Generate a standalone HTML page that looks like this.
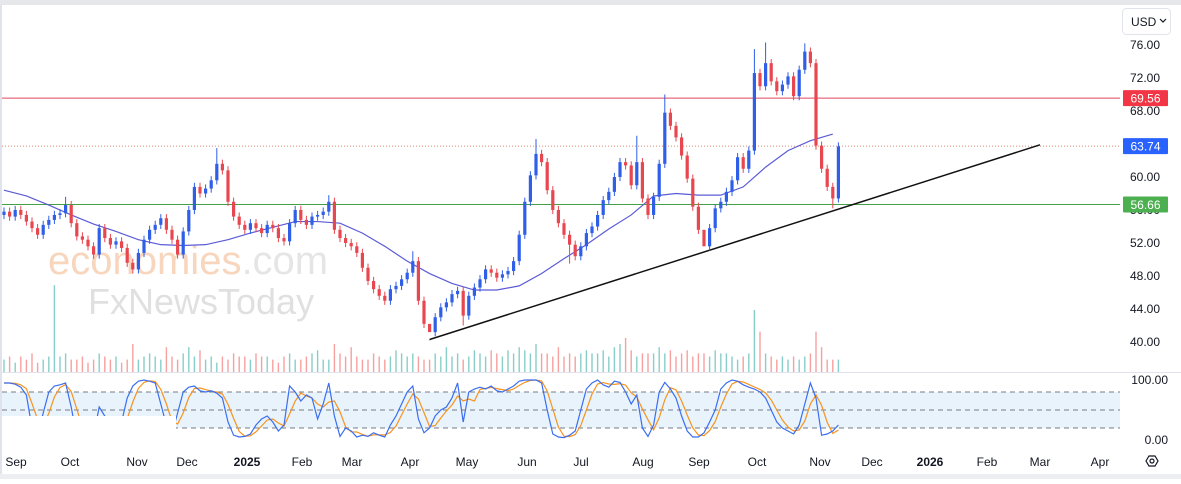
<!DOCTYPE html>
<html><head><meta charset="utf-8">
<style>
html,body{margin:0;padding:0;background:#fff;}
body{width:1181px;height:479px;overflow:hidden;font-family:"Liberation Sans",sans-serif;}
svg text{font-family:"Liberation Sans",sans-serif;}
</style></head>
<body>
<svg id="chart" width="1181" height="479" viewBox="0 0 1181 479" xmlns="http://www.w3.org/2000/svg">
  <rect x="0" y="0" width="1181" height="479" fill="#fff"/>
  <rect x="0" y="0" width="1181" height="5" fill="#e6e7ea"/>
  <rect x="0" y="5" width="2" height="470" fill="#e0e3eb"/>
  <rect x="0" y="474" width="1181" height="5" fill="#eceef1"/>
  <line x1="0" y1="372.5" x2="1181" y2="372.5" stroke="#e0e3eb"/>
  <g>
    <text x="48" y="274" font-size="40" fill="#f6c8a8" opacity="0.75">economies<tspan fill="#ddd">.com</tspan></text>
    <text x="88" y="314" font-size="36" fill="#d9d9d9" opacity="0.8">FxNewsToday</text>
  </g>
  <g id="stochBand"></g>
  <g id="vol"></g>
  <g id="levels"></g>
  <g id="ma"></g>
  <g id="candles"></g>
  <g id="stoch"></g>
  <rect x="2" y="416" width="174" height="31" fill="#fff"/>
  <g id="yaxis"></g>
  <g id="xaxis"></g>
  <g>
    <rect x="1122.5" y="8.5" width="48" height="26" rx="4" fill="#fff" stroke="#e0e3eb"/>
    <text x="1131" y="26" font-size="12" fill="#131722">USD</text>
    <path d="M1160 19 l3 3 l3 -3" fill="none" stroke="#131722" stroke-width="1.2"/>
  </g>
  <g>
    <path d="M1146 461 l3 -5 h6 l3 5 l-3 5 h-6 z" fill="none" stroke="#131722" stroke-width="1.2"/>
    <circle cx="1152" cy="461" r="2" fill="none" stroke="#131722" stroke-width="1.2"/>
  </g>
</svg>
<script>
const closes=[55.8,55.2,56,55.4,54.6,53.8,53,54.2,54.8,55.4,55.6,56.6,54.4,52.8,52.4,51.6,50.6,53.8,52.6,51.8,52.2,51.4,49.6,48.8,50.8,52.4,53.6,54.2,55,53.6,52.4,50.6,53.4,56,58.8,58,58.6,59.6,61.6,60.8,57,55.2,54.2,53.6,54.4,53.8,53.2,54.2,53.8,52.6,52.2,54.4,56,54.8,54.2,55.2,55.4,55.8,57,53.6,52.6,52,51.6,50.8,49,47.4,46.4,45.6,45,46.4,46.8,47.6,48.4,49.8,45,42.2,41.2,43,44.2,44.8,45.8,46.2,43.2,45.6,46.6,47.6,48.8,48.4,47.8,48.2,48.6,49.8,53,57,60.2,62.8,61.8,58.4,56,54.4,53,51.8,50.4,51.6,53.2,54,55.4,57.2,58.2,60,61.8,61.4,59,61.8,57.4,55.4,57.6,61.6,67.8,66.2,64.8,62.6,59.8,56.4,53.6,51.6,53.8,56.2,57,58.2,59.6,62.4,61,63.2,72.6,71,73.8,71.6,70.4,71.2,72.2,69.8,73,75.2,73.8,63.8,61,58.8,57.4,63.7];
const firstOpen=55.4;
const highOverrides={11:57.6,38:63.5,58:57.8,73:51,76:40.3,95:64.6,113:65,118:70,125:50.5,134:75.5,136:76.3,143:76.2};
const lowOverrides={76:40.2,82:42,101:49.5,125:50.5,148:56.2};
const volumes=[4,5,3,5,4,6,3,4,5,28,5,6,4,4,5,3,4,6,5,4,5,3,4,9,4,5,6,5,4,8,5,4,6,8,5,7,4,5,3,5,4,6,5,5,4,6,5,5,4,3,5,6,4,4,5,6,7,4,4,9,6,5,8,5,4,4,6,5,4,5,7,6,5,6,5,4,4,6,5,8,5,6,4,5,7,6,5,7,6,5,7,6,8,7,6,9,6,6,5,8,5,6,5,6,7,6,6,7,5,8,9,11,7,5,6,6,6,8,6,7,5,6,7,5,6,6,5,7,6,6,5,4,5,6,20,13,6,5,4,5,4,5,4,5,6,13,8,4,4,4];
const maValues=[58.4,57.7,56.6,55.4,54.3,53.4,52.4,51.8,51.7,51.8,52.4,53.2,53.9,54.6,54.6,54.4,53.2,51.6,49.8,48.3,47.1,46.3,46.3,46.8,48.3,50.1,51.8,53.7,55.4,57.7,58,57.8,57.8,58.8,61.2,63.2,64.4,65.2];
const maEvery=4;
const stochK=[95,95,93,88,75,20,8,45,80,90,92,95,55,5,4,5,8,55,40,15,6,30,70,90,98,100,98,95,60,25,10,45,80,88,90,82,80,82,78,70,30,8,5,6,10,25,35,40,30,15,25,90,80,65,75,70,35,60,95,40,6,20,15,5,8,6,12,8,5,25,40,60,80,90,35,12,20,40,50,55,70,95,30,80,85,88,85,90,82,80,85,90,98,100,100,100,95,50,10,5,4,8,15,50,85,95,100,92,88,98,96,80,60,75,20,6,25,80,96,85,70,40,15,5,5,12,30,50,85,95,100,98,92,88,85,80,70,50,30,20,15,10,25,60,95,70,8,10,15,25];
const yTicks=[76,72,68,64,60,56,52,48,44,40];
const tickLabels=["76.00","72.00","68.00","64.00","60.00","56.00","52.00","48.00","44.00","40.00"];
const months=["Sep","Oct","Nov","Dec","2025","Feb","Mar","Apr","May","Jun","Jul","Aug","Sep","Oct","Nov","Dec","2026","Feb","Mar","Apr"];
const monthX=[16,70,137,187,247,302,352,410,467,527,581,643,699,757,820,872,930,987,1040,1100];
const levelPrices=[69.56,63.74,56.66];
const levelLabels=["69.56","63.74","56.66"];
const trendStart=[76,40.3];
const trendEnd=[185,63.9];

const NS="http://www.w3.org/2000/svg";
function mk(tag,attrs,parent){const e=document.createElementNS(NS,tag);for(const k in attrs)e.setAttribute(k,attrs[k]);parent.appendChild(e);return e;}
const xOf=i=>4+i*5.6;
const yOf=p=>45+(76-p)*8.25;
const sOf=v=>440-v*0.6;
const volBase=372, volScale=3.1;

// stochastic pane
const sb=document.getElementById('stochBand');
const band=mk('rect',{x:2,y:sOf(80),width:1118,height:sOf(20)-sOf(80),fill:'#e8f3fc'},sb);


[80,50,20].forEach(v=>{
  const l=mk('line',{x1:2,x2:1120,y1:sOf(v),y2:sOf(v),stroke:'#787b86','stroke-dasharray':'5 4','stroke-width':1},sb);
  
  
});

// volume
const vg=document.getElementById('vol');
volumes.forEach((v,i)=>{
  const o=i?closes[i-1]:firstOpen;
  const up=closes[i]>=o;
  const r=mk('rect',{x:xOf(i)-0.7,y:volBase-v*volScale,width:1.4,height:v*volScale,fill:up?'rgba(38,166,154,0.55)':'rgba(239,83,80,0.55)'},vg);
  
  
});

// levels
const lg=document.getElementById('levels');
const l1=mk('line',{x1:2,x2:1120,y1:yOf(levelPrices[0]),y2:yOf(levelPrices[0]),stroke:'#e0475e','stroke-width':1},lg);


const l2=mk('line',{x1:2,x2:1120,y1:yOf(levelPrices[1]),y2:yOf(levelPrices[1]),stroke:'#d98a6a','stroke-width':1,'stroke-dasharray':'1 2'},lg);


const l3=mk('line',{x1:2,x2:1120,y1:yOf(levelPrices[2]),y2:yOf(levelPrices[2]),stroke:'#43a047','stroke-width':1},lg);


const tl=mk('line',{x1:xOf(trendStart[0]),y1:yOf(trendStart[1]),x2:xOf(trendEnd[0]),y2:yOf(trendEnd[1]),stroke:'#111','stroke-width':1.5},lg);



// MA
const mg=document.getElementById('ma');
const mp=mk('polyline',{points:maValues.map((v,k)=>xOf(Math.min(k*maEvery,149))+','+yOf(v)).join(' '),fill:'none',stroke:'#5b5bd6','stroke-width':1.2},mg);



// candles
const cg=document.getElementById('candles');
closes.forEach((c,i)=>{
  const o=i?closes[i-1]:firstOpen;
  const up=c>=o;
  const hi=highOverrides[i]!==undefined?highOverrides[i]:Math.max(o,c)+0.5;
  const lo=lowOverrides[i]!==undefined?lowOverrides[i]:Math.min(o,c)-0.5;
  const col=up?'#2f5fe8':'#e8474f';
  const g=mk('g',{},cg);
  
  
  mk('line',{x1:xOf(i),x2:xOf(i),y1:yOf(hi),y2:yOf(lo),stroke:col,'stroke-width':1},g);
  const top=yOf(Math.max(o,c)),bot=yOf(Math.min(o,c));
  mk('rect',{x:xOf(i)-1.6,y:top,width:3.2,height:Math.max(1,bot-top),fill:col},g);
});

// stochastic
const sg=document.getElementById('stoch');
const stochD=stochK.map((v,i)=>{const a=stochK.slice(Math.max(0,i-2),i+1);return a.reduce((s,x)=>s+x,0)/a.length;});
const pd=mk('polyline',{points:stochD.map((v,i)=>xOf(i)+','+sOf(v)).join(' '),fill:'none',stroke:'#f7931e','stroke-width':1.2},sg);


const pk=mk('polyline',{points:stochK.map((v,i)=>xOf(i)+','+sOf(v)).join(' '),fill:'none',stroke:'#3b6ef0','stroke-width':1.2},sg);



// y axis
const yg=document.getElementById('yaxis');
yTicks.forEach((p,i)=>{
  const t=mk('text',{x:1160,y:yOf(p)+4,'font-size':12,fill:'#131722','text-anchor':'end'},yg);
  t.textContent=tickLabels[i];
  
  
});
[["100.00",100],["0.00",0]].forEach(a=>{
  const t=mk('text',{x:1168,y:sOf(a[1])+4,'font-size':12,fill:'#131722','text-anchor':'end'},yg);
  t.textContent=a[0];
  
  
});
const lcols=['#f23645','#2962ff','#4caf50'];
levelPrices.forEach((p,i)=>{
  const g=mk('g',{},yg);
  
  
  mk('rect',{x:1123,y:yOf(p)-8,width:45,height:16,fill:lcols[i],rx:1},g);
  const t=mk('text',{x:1145.5,y:yOf(p)+4.5,'font-size':12,fill:'#fff','text-anchor':'middle'},g);
  t.textContent=levelLabels[i];
});

// x axis
const xg=document.getElementById('xaxis');
months.forEach((m,i)=>{
  const t=mk('text',{x:monthX[i],y:466,'font-size':12,fill:'#131722','text-anchor':'middle','font-weight':/^\d{4}$/.test(m)?'bold':'normal'},xg);
  t.textContent=m;
  
  
});
</script>
</body></html>
